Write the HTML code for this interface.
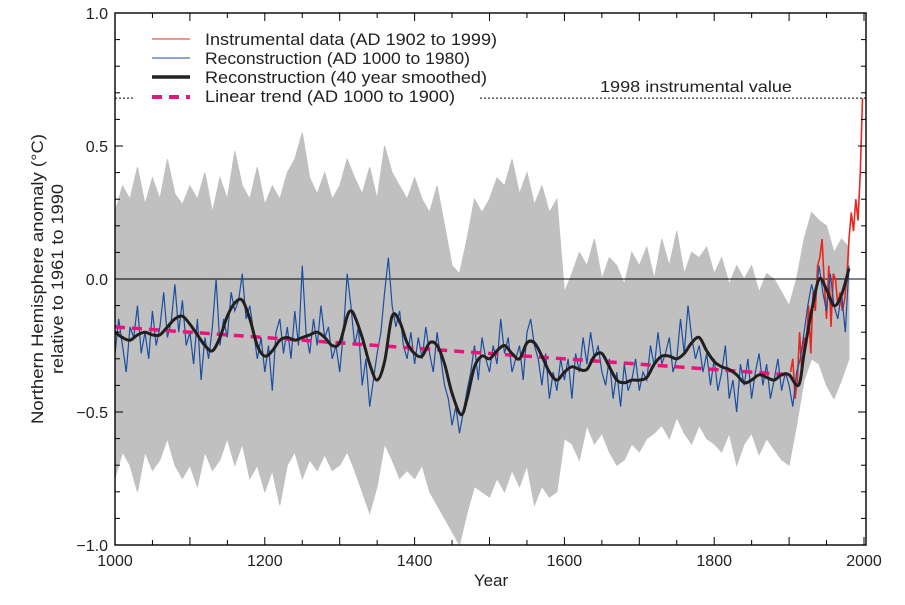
<!DOCTYPE html>
<html><head><meta charset="utf-8">
<style>
html,body{margin:0;padding:0;background:#fff;}
svg{display:block;font-family:"Liberation Sans",Arial,sans-serif;}
</style></head>
<body>
<svg id="chart" width="905" height="605" viewBox="0 0 905 605" xmlns="http://www.w3.org/2000/svg">
<defs><clipPath id="clip"><rect x="115" y="13" width="751" height="532"/></clipPath></defs>
<g id="plot" clip-path="url(#clip)"></g>
<g id="axes"></g>
<g id="legend">
  <line x1="152" y1="39" x2="190" y2="39" stroke="#e8281e" stroke-width="1"/>
  <text x="205" y="45" font-size="17" fill="#222" textLength="292" lengthAdjust="spacingAndGlyphs">Instrumental data (AD 1902 to 1999)</text>
  <line x1="152" y1="58" x2="190" y2="58" stroke="#1a4ea0" stroke-width="1"/>
  <text x="205" y="64" font-size="17" fill="#222" textLength="265" lengthAdjust="spacingAndGlyphs">Reconstruction (AD 1000 to 1980)</text>
  <line x1="152" y1="77" x2="190" y2="77" stroke="#222" stroke-width="3.5"/>
  <text x="205" y="83" font-size="17" fill="#222" textLength="282" lengthAdjust="spacingAndGlyphs">Reconstruction (40 year smoothed)</text>
  <line x1="152" y1="97" x2="190" y2="97" stroke="#e8157a" stroke-width="4" stroke-dasharray="10,7"/>
  <text x="205" y="102" font-size="17" fill="#222" textLength="250" lengthAdjust="spacingAndGlyphs">Linear trend (AD 1000 to 1900)</text>
</g>
<text x="600" y="92" font-size="16" fill="#222" textLength="192" lengthAdjust="spacingAndGlyphs">1998 instrumental value</text>
<text x="491" y="586" font-size="17" fill="#222" text-anchor="middle">Year</text>
<g transform="translate(43,279) rotate(-90)">
  <text x="0" y="0" font-size="17" fill="#222" text-anchor="middle" textLength="290" lengthAdjust="spacingAndGlyphs">Northern Hemisphere anomaly (°C)</text>
  <text x="0" y="20" font-size="17" fill="#222" text-anchor="middle" textLength="190" lengthAdjust="spacingAndGlyphs">relative to 1961 to 1990</text>
</g>
</svg>
<script>
const reconStart = 1000, reconStep = 5;
const reconVals = [
-0.28,-0.15,-0.25,-0.35,-0.18,-0.22,-0.10,-0.28,-0.20,-0.30,-0.12,-0.25,-0.18,-0.05,-0.22,-0.16,-0.02,-0.20,-0.08,-0.25,
-0.20,-0.32,-0.15,-0.38,-0.22,-0.30,-0.18,0.00,-0.25,-0.15,-0.22,-0.05,-0.12,-0.08,0.02,-0.15,-0.10,-0.20,-0.30,-0.22,
-0.35,-0.25,-0.42,-0.20,-0.15,-0.28,-0.18,-0.30,-0.12,-0.25,0.05,-0.20,-0.28,-0.15,-0.25,-0.10,-0.22,-0.18,-0.30,-0.25,
-0.35,-0.20,0.02,-0.10,-0.25,-0.18,-0.40,-0.30,-0.48,-0.38,-0.28,-0.20,-0.05,0.08,-0.10,-0.18,-0.12,-0.25,-0.30,-0.20,
-0.32,-0.22,-0.30,-0.18,-0.28,-0.35,-0.20,-0.30,-0.40,-0.45,-0.55,-0.48,-0.58,-0.50,-0.42,-0.35,-0.25,-0.38,-0.22,-0.30,
-0.35,-0.25,-0.32,-0.15,-0.28,-0.22,-0.35,-0.30,-0.25,-0.38,-0.20,-0.15,-0.25,-0.30,-0.40,-0.28,-0.45,-0.35,-0.42,-0.30,
-0.38,-0.30,-0.45,-0.28,-0.35,-0.22,-0.32,-0.20,-0.30,-0.25,-0.35,-0.40,-0.30,-0.45,-0.35,-0.48,-0.32,-0.42,-0.38,-0.30,
-0.42,-0.35,-0.38,-0.25,-0.33,-0.20,-0.32,-0.28,-0.22,-0.35,-0.30,-0.15,-0.28,-0.10,-0.22,-0.30,-0.25,-0.35,-0.28,-0.40,
-0.30,-0.42,-0.35,-0.25,-0.45,-0.38,-0.50,-0.32,-0.40,-0.30,-0.45,-0.35,-0.28,-0.40,-0.32,-0.45,-0.38,-0.30,-0.42,-0.35,
-0.40,-0.48,-0.35,-0.30,-0.20,-0.10,-0.02,-0.08,0.05,-0.05,-0.12,0.02,-0.10,-0.15,-0.05,-0.20,0.05];
const bandStart = 1000, bandStep = 10;
const bandUpper = [
0.25,0.35,0.30,0.42,0.28,0.38,0.30,0.45,0.32,0.28,
0.35,0.30,0.40,0.25,0.38,0.30,0.48,0.35,0.30,0.42,
0.28,0.35,0.30,0.40,0.45,0.55,0.38,0.32,0.40,0.30,
0.35,0.45,0.38,0.32,0.42,0.30,0.50,0.40,0.35,0.30,
0.38,0.30,0.25,0.35,0.20,0.05,0.02,0.15,0.30,0.25,
0.30,0.38,0.35,0.45,0.32,0.40,0.28,0.35,0.25,0.30,
-0.05,0.02,0.10,0.05,0.15,0.00,0.08,0.05,-0.02,0.10,
0.05,0.12,0.00,0.15,0.05,0.18,0.02,0.10,0.08,0.12,
0.02,0.08,-0.02,0.05,0.00,0.05,-0.05,0.02,0.00,-0.05,
-0.10,0.00,0.15,0.25,0.22,0.20,0.10,0.15,0.12];
const bandLower = [
-0.75,-0.65,-0.70,-0.80,-0.65,-0.72,-0.68,-0.60,-0.70,-0.75,
-0.70,-0.78,-0.65,-0.72,-0.68,-0.60,-0.70,-0.62,-0.75,-0.70,
-0.80,-0.72,-0.85,-0.70,-0.65,-0.75,-0.68,-0.72,-0.66,-0.72,
-0.70,-0.65,-0.72,-0.80,-0.88,-0.78,-0.62,-0.68,-0.75,-0.72,
-0.75,-0.70,-0.80,-0.85,-0.90,-0.95,-1.00,-0.88,-0.78,-0.80,
-0.82,-0.75,-0.80,-0.72,-0.78,-0.70,-0.85,-0.78,-0.82,-0.80,
-0.60,-0.62,-0.68,-0.55,-0.62,-0.58,-0.65,-0.70,-0.68,-0.62,
-0.65,-0.60,-0.58,-0.55,-0.60,-0.52,-0.58,-0.62,-0.55,-0.60,
-0.62,-0.65,-0.58,-0.70,-0.62,-0.58,-0.66,-0.60,-0.64,-0.68,
-0.70,-0.55,-0.38,-0.30,-0.32,-0.40,-0.45,-0.38,-0.30];
const smoothYears = [1000,1010,1020,1030,1040,1050,1060,1070,1080,1090,1100,1110,1120,1130,1140,1150,1160,1170,1180,1190,1200,1210,1220,1230,1240,1250,1260,1270,1280,1290,1300,1310,1315,1320,1330,1340,1350,1360,1370,1380,1390,1400,1410,1420,1430,1440,1450,1462,1470,1480,1490,1500,1510,1520,1530,1540,1550,1560,1570,1580,1590,1600,1610,1620,1630,1640,1650,1660,1670,1680,1690,1700,1710,1720,1730,1740,1750,1760,1770,1780,1790,1800,1810,1820,1830,1840,1850,1860,1870,1880,1890,1900,1910,1915,1920,1930,1940,1950,1960,1970,1980];
const smoothVals = [-0.20,-0.22,-0.23,-0.21,-0.20,-0.21,-0.21,-0.18,-0.15,-0.14,-0.17,-0.21,-0.25,-0.27,-0.22,-0.14,-0.09,-0.08,-0.15,-0.25,-0.29,-0.27,-0.23,-0.22,-0.23,-0.22,-0.21,-0.20,-0.22,-0.25,-0.24,-0.14,-0.12,-0.14,-0.22,-0.32,-0.38,-0.31,-0.14,-0.16,-0.24,-0.28,-0.29,-0.24,-0.25,-0.32,-0.43,-0.51,-0.45,-0.33,-0.29,-0.30,-0.27,-0.25,-0.28,-0.30,-0.24,-0.24,-0.29,-0.35,-0.38,-0.35,-0.33,-0.34,-0.34,-0.29,-0.28,-0.33,-0.38,-0.39,-0.38,-0.38,-0.37,-0.32,-0.29,-0.29,-0.30,-0.28,-0.24,-0.22,-0.27,-0.31,-0.33,-0.34,-0.36,-0.39,-0.38,-0.36,-0.37,-0.38,-0.36,-0.36,-0.40,-0.38,-0.28,-0.12,0.00,-0.04,-0.10,-0.06,0.04];
const instYears = [1902,1905,1908,1911,1914,1917,1920,1923,1926,1929,1932,1935,1938,1941,1944,1947,1950,1953,1956,1959,1962,1965,1968,1971,1974,1977,1980,1983,1986,1989,1992,1995,1998];
const instVals = [-0.35,-0.30,-0.45,-0.38,-0.20,-0.35,-0.22,-0.25,-0.10,-0.28,-0.05,-0.12,0.05,0.08,0.15,-0.02,-0.15,0.05,-0.18,0.02,0.00,-0.10,-0.05,-0.12,-0.08,0.00,0.15,0.25,0.18,0.30,0.22,0.40,0.68];
const trendYears = [1000,1900];
const trendVals = [-0.18,-0.36];
const xTickLabels = [1000,1200,1400,1600,1800,2000];
const yTickLabels = [1.0,0.5,0.0,-0.5,-1.0];

const X0=115,X1=864,Y0=545,Y1=13;
function xs(yr){return X0+(yr-1000)/1000*(X1-X0);}
function ys(v){return Y0-(v+1)/2*(Y0-Y1);}
const NS="http://www.w3.org/2000/svg";
const plot=document.getElementById('plot'), axes=document.getElementById('axes');
function mk(tag,attrs,parent){const e=document.createElementNS(NS,tag);for(const k in attrs)e.setAttribute(k,attrs[k]);parent.appendChild(e);return e;}

let d='';
bandUpper.forEach((v,i)=>{d+=(i?'L':'M')+xs(bandStart+i*bandStep).toFixed(1)+','+ys(v).toFixed(1);});
for(let i=bandLower.length-1;i>=0;i--)d+='L'+xs(bandStart+i*bandStep).toFixed(1)+','+ys(bandLower[i]).toFixed(1);
const band=mk('path',{d:d+'Z',fill:'#c0c0c0',stroke:'#c0c0c0','stroke-width':1},plot);



const zl=mk('line',{x1:X0,x2:866,y1:ys(0),y2:ys(0),stroke:'#000','stroke-width':1},plot);



function poly(xsArr,vals){return vals.map((v,i)=>(i?'L':'M')+xs(xsArr[i]).toFixed(1)+','+ys(v).toFixed(1)).join('');}
const inst=mk('path',{d:poly(instYears,instVals),fill:'none',stroke:'#e8281e','stroke-width':1.6},plot);


const ry=reconVals.map((v,i)=>reconStart+i*reconStep);
const rec=mk('path',{d:poly(ry,reconVals),fill:'none',stroke:'#1a4ea0','stroke-width':1.2},plot);


const tr=mk('path',{d:poly(trendYears,trendVals),fill:'none',stroke:'#e8157a','stroke-width':3.5,'stroke-dasharray':'10,7'},plot);


const pts=smoothYears.map((y,i)=>[xs(y),ys(smoothVals[i])]);
let sd='M'+pts[0][0]+','+pts[0][1];
for(let i=0;i<pts.length-1;i++){const p0=pts[Math.max(0,i-1)],p1=pts[i],p2=pts[i+1],p3=pts[Math.min(pts.length-1,i+2)];
sd+='C'+(p1[0]+(p2[0]-p0[0])/6).toFixed(1)+','+(p1[1]+(p2[1]-p0[1])/6).toFixed(1)+' '+(p2[0]-(p3[0]-p1[0])/6).toFixed(1)+','+(p2[1]-(p3[1]-p1[1])/6).toFixed(1)+' '+p2[0].toFixed(1)+','+p2[1].toFixed(1);}
const sm=mk('path',{d:sd,fill:'none',stroke:'#231f1f','stroke-width':3},plot);



const dl1=mk('line',{x1:X0,x2:135,y1:ys(0.68),y2:ys(0.68),stroke:'#000','stroke-width':1,'stroke-dasharray':'2,2'},axes);


const dl2=mk('line',{x1:480,x2:866,y1:ys(0.68),y2:ys(0.68),stroke:'#000','stroke-width':1,'stroke-dasharray':'2,2'},axes);



const fr=mk('rect',{x:X0,y:Y1,width:866-X0,height:Y0-Y1,fill:'none',stroke:'#000','stroke-width':1.4},axes);


for(let yr=1000;yr<=2000;yr+=50){const x=xs(yr),len=yr%100===0?8:5;
 const t1=mk('line',{x1:x,x2:x,y1:Y0,y2:Y0-len,stroke:'#000'},axes);
 
 
 const t2=mk('line',{x1:x,x2:x,y1:Y1,y2:Y1+len,stroke:'#000'},axes);
 
 }
xTickLabels.forEach(v=>{const t=mk('text',{x:xs(v),y:566,'font-size':16,'text-anchor':'middle',fill:'#222'},axes);t.textContent=v;
 
 });
for(let k=-10;k<=10;k++){const v=k/10,y=ys(v),len=k%5===0?8:5;
 const t1=mk('line',{x1:X0,x2:X0+len,y1:y,y2:y,stroke:'#000'},axes);
 
 
 const t2=mk('line',{x1:866,x2:866-len,y1:y,y2:y,stroke:'#000'},axes);
 
 }
yTickLabels.forEach(v=>{const t=mk('text',{x:108,y:ys(v)+6,'font-size':16,'text-anchor':'end',fill:'#222'},axes);t.textContent=(v<0?'\u2212':'')+Math.abs(v).toFixed(1);
 
 });
</script>
</body></html>
